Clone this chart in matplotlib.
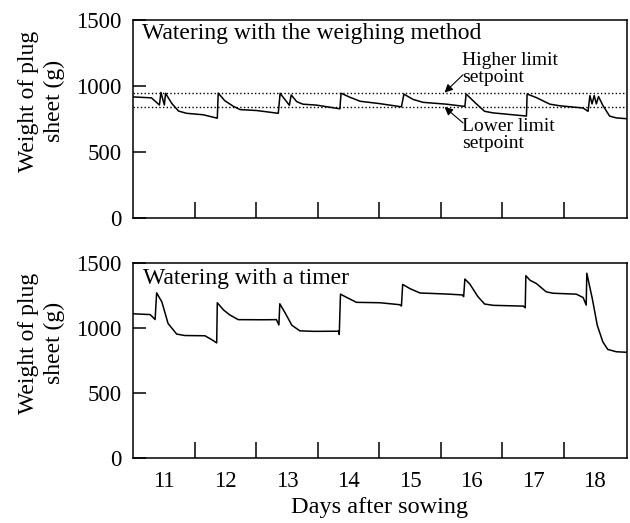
import matplotlib
matplotlib.use('Agg')
from matplotlib import pyplot as plt

# weighing method: time (days after sowing) and weight of plug sheet (g)
weigh_days = [10.5, 10.80, 10.93, 10.955, 11.01, 11.03, 11.13, 11.24, 11.37, 11.64,
              11.87, 11.885, 11.99, 12.13, 12.24, 12.51, 12.86, 12.89, 13.04, 13.07,
              13.16, 13.26, 13.48, 13.86, 13.88, 14.02, 14.19, 14.51, 14.86, 14.90,
              15.05, 15.21, 15.59, 15.89, 15.91, 16.05, 16.21, 16.35, 16.89, 16.90,
              17.05, 17.27, 17.43, 17.81, 17.89, 17.92, 17.955, 17.99, 18.025, 18.06,
              18.13, 18.24, 18.35, 18.52]
weigh_weight = [917, 910, 856, 951, 856, 944, 868, 810, 793, 782,
                756, 946, 889, 846, 821, 814, 793, 944, 854, 932,
                881, 862, 855, 827, 945, 915, 884, 866, 842, 938,
                898, 876, 862, 845, 939, 876, 808, 796, 772, 939,
                912, 862, 850, 833, 808, 927, 864, 927, 864, 920,
                853, 772, 758, 752]

higher_setpoint = 950
lower_setpoint = 840

# timer
timer_days = [10.5, 10.78, 10.86, 10.885, 10.97, 11.07, 11.21, 11.34, 11.67, 11.78,
              11.86, 11.87, 11.97, 12.07, 12.21, 12.61, 12.83, 12.87, 12.885, 12.97,
              13.08, 13.21, 13.43, 13.84, 13.85, 13.87, 13.97, 14.13, 14.51, 14.83,
              14.86, 14.88, 15.00, 15.16, 15.59, 15.85, 15.87, 15.89, 15.97, 16.10,
              16.21, 16.35, 16.84, 16.87, 16.88, 16.95, 17.05, 17.21, 17.32, 17.70,
              17.81, 17.86, 17.87, 17.96, 18.04, 18.13, 18.21, 18.35, 18.52]
timer_weight = [1110, 1104, 1066, 1271, 1201, 1036, 954, 943, 941, 911,
                886, 1195, 1140, 1102, 1065, 1064, 1065, 1024, 1187, 1118,
                1022, 979, 975, 976, 951, 1261, 1236, 1198, 1195, 1180,
                1170, 1336, 1303, 1270, 1262, 1255, 1242, 1377, 1339, 1243,
                1185, 1175, 1169, 1156, 1403, 1367, 1343, 1279, 1268, 1261,
                1235, 1177, 1422, 1224, 1021, 894, 836, 818, 814]

day_labels = [11, 12, 13, 14, 15, 16, 17, 18]
day_bounds = [11.5, 12.5, 13.5, 14.5, 15.5, 16.5, 17.5]
y_ticks = [0, 500, 1000, 1500]

plt.rcParams['font.family'] = ['Liberation Serif', 'DejaVu Serif']
plt.rcParams['font.size'] = 16

fig = plt.figure(figsize=(6.3, 5.23), dpi=100)
ax1 = fig.add_axes([0.211, 0.583, 0.784, 0.379])
ax2 = fig.add_axes([0.211, 0.124, 0.784, 0.373])

for ax in (ax1, ax2):
    ax.set_xlim(10.5, 18.52)
    ax.set_ylim(0, 1500)
    ax.set_yticks(y_ticks)
    ax.set_xticks(day_labels)
    ax.set_xticks(day_bounds, minor=True)
    ax.tick_params(axis='y', direction='in', length=9.5, width=1.1, pad=8, labelsize=16.5)
    ax.tick_params(axis='x', which='major', length=0, pad=9, labelsize=16.5)
    ax.tick_params(axis='x', which='minor', direction='in', length=11.5, width=1.1)
    for s in ax.spines.values():
        s.set_linewidth(1.1)
    ax.text(-0.185, 0.59, 'Weight of plug\nsheet (g)', transform=ax.transAxes,
            rotation=90, ha='center', va='center', fontsize=17, linespacing=1.25)

ax1.set_xticklabels([])

ax1.plot(weigh_days, weigh_weight, color='black', linewidth=1.1)
ax1.axhline(higher_setpoint, color='black', linestyle=':', linewidth=1.0)
ax1.axhline(lower_setpoint, color='black', linestyle=':', linewidth=1.0)
ax1.text(0.018, 0.985, 'Watering with the weighing method', transform=ax1.transAxes,
         ha='left', va='top', fontsize=17)

ax1.text(15.84, 1125, 'Higher limit\nsetpoint', ha='left', va='center', fontsize=14,
         linespacing=1.0)
ax1.annotate('', xy=(15.56, higher_setpoint), xytext=(15.86, 1085),
             arrowprops=dict(arrowstyle='-|>', color='black', lw=0.8, mutation_scale=12,
                             shrinkA=0, shrinkB=0))
ax1.text(15.84, 630, 'Lower limit\nsetpoint', ha='left', va='center', fontsize=14,
         linespacing=1.0)
ax1.annotate('', xy=(15.56, lower_setpoint), xytext=(15.86, 720),
             arrowprops=dict(arrowstyle='-|>', color='black', lw=0.8, mutation_scale=12,
                             shrinkA=0, shrinkB=0))

ax2.plot(timer_days, timer_weight, color='black', linewidth=1.1)
ax2.text(0.02, 0.975, 'Watering with a timer', transform=ax2.transAxes,
         ha='left', va='top', fontsize=17)
ax2.set_xlabel('Days after sowing', fontsize=17.5, labelpad=4)

plt.savefig('out.png', dpi=100)
